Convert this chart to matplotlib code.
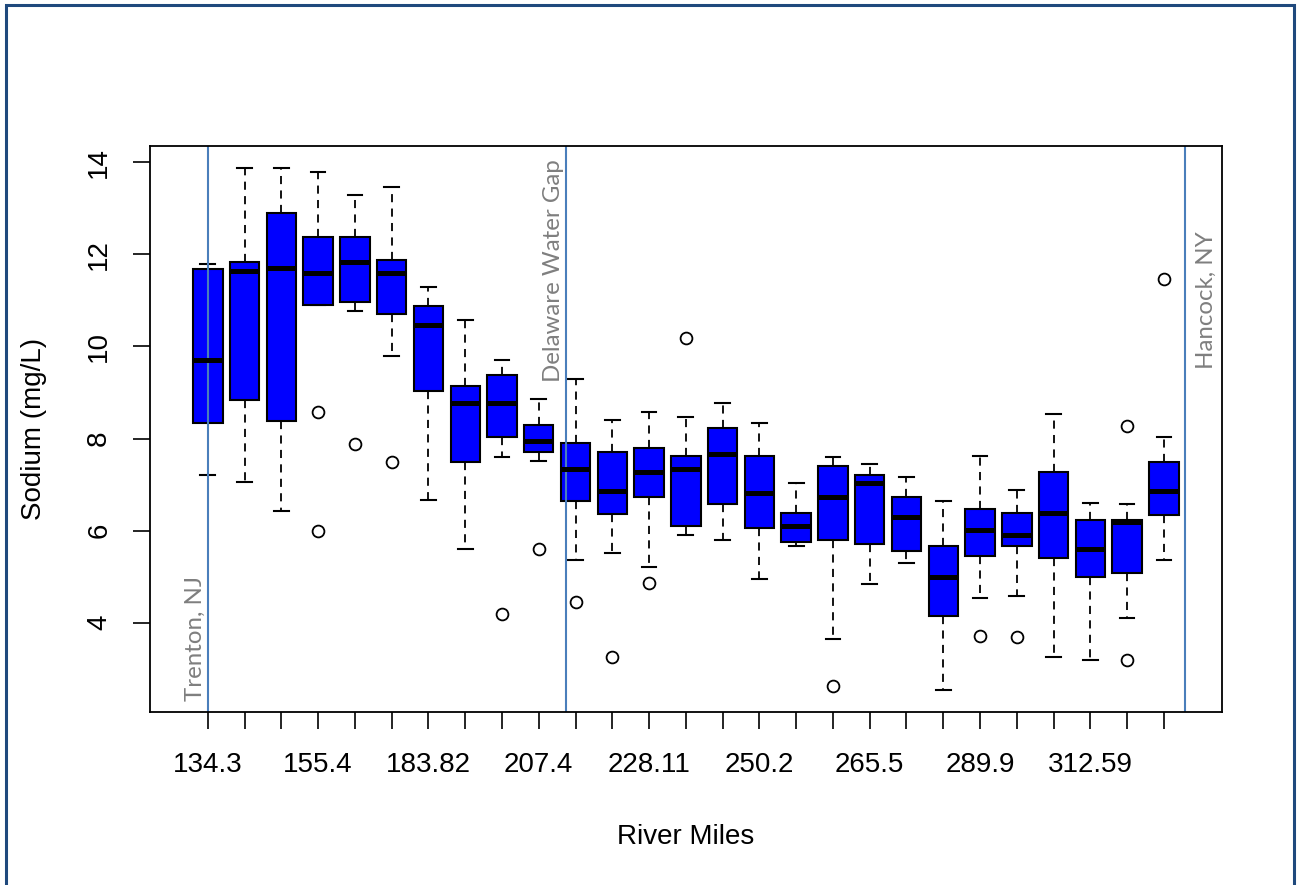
import numpy as np
import matplotlib
matplotlib.use('Agg')
import matplotlib.pyplot as plt
from matplotlib.patches import Rectangle

plt.rcParams['font.family'] = ['Liberation Sans', 'DejaVu Sans']

# sodium boxplot summaries, one per sampling station going upstream
station = np.arange(1, 28)

q1 = [8.34, 8.84, 8.38, 10.89, 10.96, 10.70, 9.04, 7.48, 8.03, 7.71,
      6.65, 6.37, 6.73, 6.10, 6.57, 6.06, 5.75, 5.79, 5.71, 5.56,
      4.14, 5.44, 5.67, 5.40, 5.00, 5.08, 6.34]
med = [9.71, 11.64, 11.71, 11.60, 11.84, 11.60, 10.46, 8.78, 8.78, 7.95,
       7.33, 6.85, 7.28, 7.33, 7.67, 6.81, 6.10, 6.73, 7.04, 6.30,
       5.00, 6.02, 5.90, 6.38, 5.60, 6.18, 6.85]
q3 = [11.68, 11.83, 12.89, 12.38, 12.38, 11.87, 10.88, 9.14, 9.37, 8.30,
      7.91, 7.71, 7.79, 7.63, 8.22, 7.63, 6.38, 7.40, 7.20, 6.73,
      5.67, 6.46, 6.38, 7.28, 6.22, 6.22, 7.48]
whis_lo = [7.20, 7.05, 6.43, 10.89, 10.77, 9.80, 6.67, 5.60, 7.60, 7.52,
           5.36, 5.52, 5.20, 5.90, 5.79, 4.96, 5.67, 3.64, 4.85, 5.29,
           2.54, 4.54, 4.58, 3.26, 3.18, 4.10, 5.37]
whis_hi = [11.78, 13.87, 13.87, 13.79, 13.28, 13.47, 11.28, 10.57, 9.71, 8.85,
           9.29, 8.41, 8.57, 8.47, 8.77, 8.34, 7.04, 7.59, 7.44, 7.17,
           6.65, 7.63, 6.89, 8.54, 6.61, 6.57, 8.03]
outliers = [[], [], [], [8.58, 5.99], [7.87], [7.48], [], [], [4.18], [5.60],
            [4.46], [3.25], [4.87], [10.18], [], [], [], [2.62], [], [],
            [], [3.72], [3.68], [], [], [8.27, 3.18], [11.47]]

# river mile labels that fit on the axis (every third station)
tick_labels = ['134.3', '155.4', '183.82', '207.4', '228.11',
               '250.2', '265.5', '289.9', '312.59']

# reference points along the river
ref_names = ['Trenton, NJ', 'Delaware Water Gap', 'Hancock, NY']
ref_pos = [1.0, 10.73, 27.58]

stats = []
for i in range(len(station)):
    stats.append({'q1': q1[i], 'med': med[i], 'q3': q3[i],
                  'whislo': whis_lo[i], 'whishi': whis_hi[i],
                  'fliers': outliers[i]})

fig = plt.figure(figsize=(12.97, 8.85), dpi=100)
ax = fig.add_axes([149.7/1297, 1 - 711.6/885, (1222 - 149.7)/1297, (711.6 - 146.3)/885])

ax.bxp(stats, positions=station, widths=0.8, capwidths=0.4, patch_artist=True,
       boxprops=dict(facecolor='#0000FF', edgecolor='black', linewidth=1.5),
       medianprops=dict(color='black', linewidth=3.6, solid_capstyle='butt'),
       whiskerprops=dict(color='black', linewidth=1.3, linestyle=(0, (4.5, 3.5))),
       capprops=dict(color='black', linewidth=1.5),
       flierprops=dict(marker='o', markerfacecolor='none', markeredgecolor='black',
                       markersize=8.5, markeredgewidth=1.3),
       manage_ticks=False)

ax.set_xlim(-0.58, 28.58)
ax.set_ylim(2.07, 14.345)

# x ticks at every station, labels only every third
ax.set_xticks(station)
labels = [''] * len(station)
for k, lab in enumerate(tick_labels):
    labels[k * 3] = lab
ax.set_xticklabels(labels)
ax.set_yticks([4, 6, 8, 10, 12, 14])
ax.tick_params(axis='both', length=12, width=1.2, labelsize=20, color='black')
ax.tick_params(axis='x', pad=17)
ax.tick_params(axis='y', pad=15)
plt.setp(ax.get_yticklabels(), rotation=90, va='center')
for s in ax.spines.values():
    s.set_linewidth(1.3)

ax.set_xlabel('River Miles', fontsize=20)
ax.xaxis.set_label_coords(0.5, -0.198)
ax.set_ylabel('Sodium (mg/L)', fontsize=20, va='center')
ax.yaxis.set_label_coords(-0.108, 0.5)

# landmark lines and their names
for x in ref_pos:
    ax.axvline(x, color='#4A7EBB', linewidth=1.5)
note = dict(rotation=90, color='#7F7F7F', fontsize=17.3, family=['Lato', 'DejaVu Sans'])
ax.text(ref_pos[0] - 0.06, 2.30, ref_names[0], ha='right', va='bottom', **note)
ax.text(ref_pos[1] - 0.04, 14.07, ref_names[1], ha='right', va='top', **note)
ax.text(ref_pos[2] + 0.30, 9.51, ref_names[2], ha='left', va='bottom', **note)

# outer frame around the slide
fig.patches.append(Rectangle((6/1297, -0.02), (1294 - 6)/1297, 1.02 - 5/885,
                             transform=fig.transFigure, fill=False,
                             edgecolor='#1F497D', linewidth=2.2))

fig.savefig('out.png', dpi=100)
